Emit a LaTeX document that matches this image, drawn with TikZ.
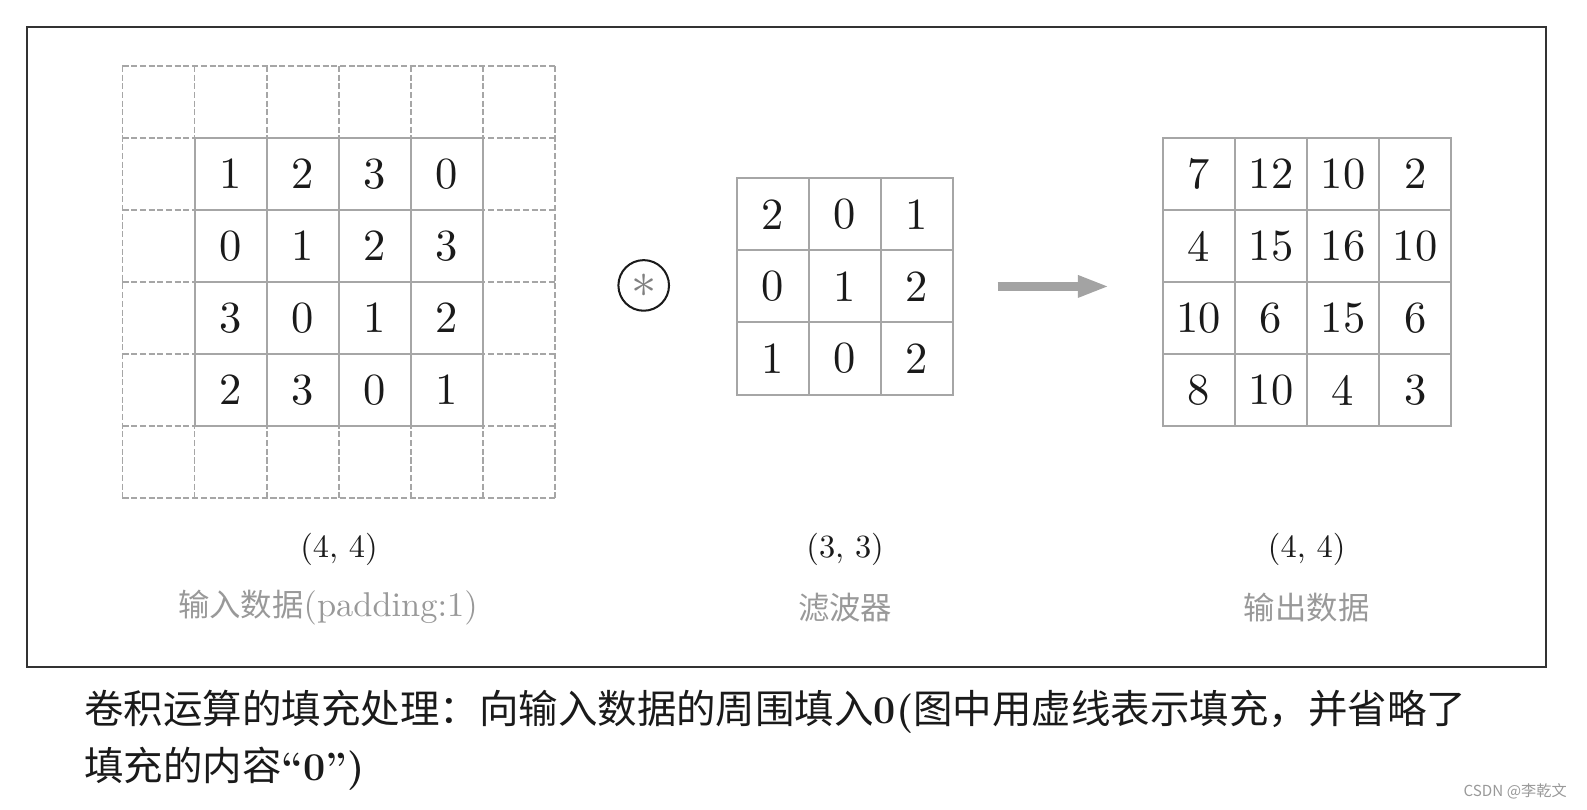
\documentclass[tikz,border=0pt]{standalone}
\usepackage{fontspec}
\newfontfamily\cjk{Noto Sans CJK SC}
\newfontfamily\numfont{lmroman10-regular.otf}
\usepackage{tikz}
\usetikzlibrary{arrows.meta}
\usetikzlibrary{calc}

\definecolor{gridgray}{HTML}{A6A6A6}
\definecolor{labelgray}{HTML}{999999}
\definecolor{arrowgray}{HTML}{A3A3A3}
\definecolor{framegray}{HTML}{333333}
\definecolor{textblack}{HTML}{1A1A1A}

\tikzset{
  cell/.style={draw=gridgray, line width=1pt, fill=white, minimum size=35.6pt,
    inner sep=0pt, text=textblack, font=\numfont\fontsize{22}{26}\selectfont},
  padline/.style={gridgray, line width=0.9pt, dash pattern=on 3pt off 1.3pt},
  shapelbl/.style={font=\numfont\fontsize{16}{19}\selectfont, text=textblack},
  namelbl/.style={font=\cjk\fontsize{15.5}{19}\selectfont, text=labelgray},
  caption/.style={anchor=west, inner sep=0pt, text=textblack,
    font=\cjk\fontsize{19.5}{24}\selectfont},
  flowarrow/.style={draw=arrowgray, line width=4.4pt,
    -{Triangle[length=15.5pt, width=10pt]}},
}

\begin{document}
\begin{tikzpicture}[x=0.5pt, y=-0.5pt]
    \useasboundingbox (0,0) rectangle (1568,800);

    % Marco
    \draw[framegray, line width=1pt] (27,27) rectangle (1527,659);

    % Relleno (padding) punteado
    \foreach \k in {0,...,6} {
        \draw[padline] ({121+71.2*\k},65) -- ({121+71.2*\k},492.2);
        \draw[padline] (121,{65+71.2*\k}) -- (548.2,{65+71.2*\k});
    }

    % Datos de entrada
    \foreach \row [count=\i] in {{1,2,3,0},{0,1,2,3},{3,0,1,2},{2,3,0,1}}
        \foreach \v [count=\j] in \row
            \node[cell] (in-\i-\j) at ({156.8+71.2*\j},{100.6+71.2*\i}) {\v};

    % Operador
    \node[circle, draw=textblack, line width=1pt, minimum size=25pt, inner sep=0pt,
          text=gray] (conv) at (636,282) {\fontsize{24}{24}\selectfont$\ast$};

    % Filtro
    \foreach \row [count=\i] in {{2,0,1},{0,1,2},{1,0,2}}
        \foreach \v [count=\j] in \row
            \node[cell] (flt-\i-\j) at ({692.4+71.2*\j},{140.6+71.2*\i}) {\v};

    % Salida
    \foreach \row [count=\i] in {{7,12,10,2},{4,15,16,10},{10,6,15,6},{8,10,4,3}}
        \foreach \v [count=\j] in \row
            \node[cell] (out-\i-\j) at ({1113.4+71.2*\j},{100.6+71.2*\i}) {\v};

    % Flecha
    \draw[flowarrow] ([xshift=21.5pt]flt-2-3.east) -- ([xshift=-26pt]flt-2-3.east -| out-2-1.west);

    % Etiquetas
    \node[shapelbl] (in-dim) at (335,543) {(4, 4)};
    \node[shapelbl] (flt-dim) at (835,543) {(3, 3)};
    \node[shapelbl] (out-dim) at (1291,543) {(4, 4)};
    \node[namelbl] (in-name) at (324,600) {输入数据{\numfont\fontsize{17}{19}\selectfont(padding:1)}};
    \node[namelbl] (flt-name) at (835,600) {滤波器};
    \node[namelbl] (out-name) at (1291,600) {输出数据};

    % Pie
    \node[caption] (cap-a) at (83,703) {卷积运算的填充处理：向输入数据的周围填入{\rmfamily\bfseries 0(}图中用虚线表示填充，并省略了};
    \node[caption] (cap-b) at (83,760) {填充的内容{\rmfamily\bfseries “0”)}};
    \node[anchor=east, font=\cjk\fontsize{7.5}{9}\selectfont, text=labelgray] (mark) at (1555,782) {CSDN @李乾文};
\end{tikzpicture}
\end{document}
